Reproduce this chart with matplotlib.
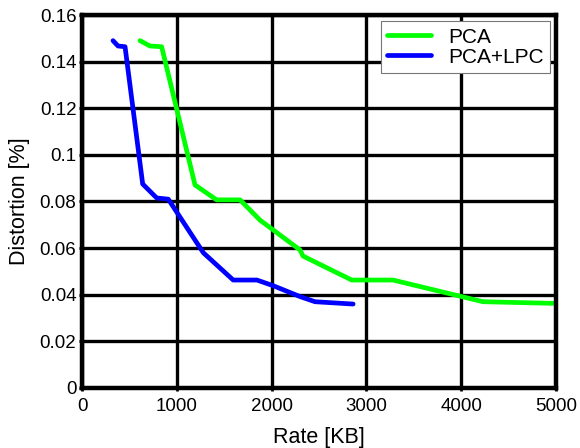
import matplotlib
matplotlib.use("Agg")
import matplotlib.pyplot as plt

plt.rcParams['font.family'] = ['Liberation Sans', 'DejaVu Sans']

# PCA curve
pca_rate = [612, 717, 840, 1192, 1420, 1667, 1878, 2300, 2331, 2845, 3281, 4230, 4968]
pca_dist = [0.149, 0.1467, 0.1464, 0.0871, 0.0807, 0.0807, 0.072, 0.0592, 0.0566, 0.0463, 0.0463, 0.037, 0.0363]

# PCA+LPC curve
lpc_rate = [327, 380, 454, 640, 788, 910, 1280, 1595, 1845, 2015, 2300, 2458, 2860]
lpc_dist = [0.149, 0.1467, 0.1464, 0.0875, 0.0815, 0.081, 0.058, 0.0463, 0.0463, 0.0439, 0.0392, 0.037, 0.036]

xticks = [0, 1000, 2000, 3000, 4000, 5000]
yticks = [0, 0.02, 0.04, 0.06, 0.08, 0.1, 0.12, 0.14, 0.16]
ytick_labels = ['0', '0.02', '0.04', '0.06', '0.08', '0.1', '0.12', '0.14', '0.16']

fig = plt.figure(figsize=(5.8, 4.48), dpi=100)
ax = fig.add_axes([0.1414, 0.134, 0.8172, 0.8325])

ax.plot(pca_rate, pca_dist, color='#00ff00', lw=3.4, label='PCA', solid_capstyle='round')
ax.plot(lpc_rate, lpc_dist, color='#0000ff', lw=3.4, label='PCA+LPC', solid_capstyle='round')

ax.set_xlim(0, 5000)
ax.set_ylim(0, 0.16)
ax.set_xticks(xticks)
ax.set_xticklabels([str(t) for t in xticks])
ax.set_yticks(yticks)
ax.set_yticklabels(ytick_labels)
ax.grid(True, color='black', lw=2.4, ls='-')
ax.set_axisbelow(True)
for s in ax.spines.values():
    s.set_linewidth(3.2)
ax.tick_params(direction='out', length=2, width=2, labelsize=13.5)
ax.tick_params(axis='x', pad=5)
ax.tick_params(axis='y', pad=2)

ax.set_xlabel('Rate [KB]', fontsize=15.5, labelpad=9)
ax.set_ylabel('Distortion [%]', fontsize=15.5, labelpad=7)

leg = ax.legend(loc='upper right', fontsize=15, fancybox=False, framealpha=1,
                edgecolor='#777777', borderaxespad=0.3, handlelength=2.1,
                labelspacing=0.05, borderpad=0.3, handletextpad=0.8)
leg.get_frame().set_linewidth(0.8)

fig.savefig('out.png', dpi=100)
